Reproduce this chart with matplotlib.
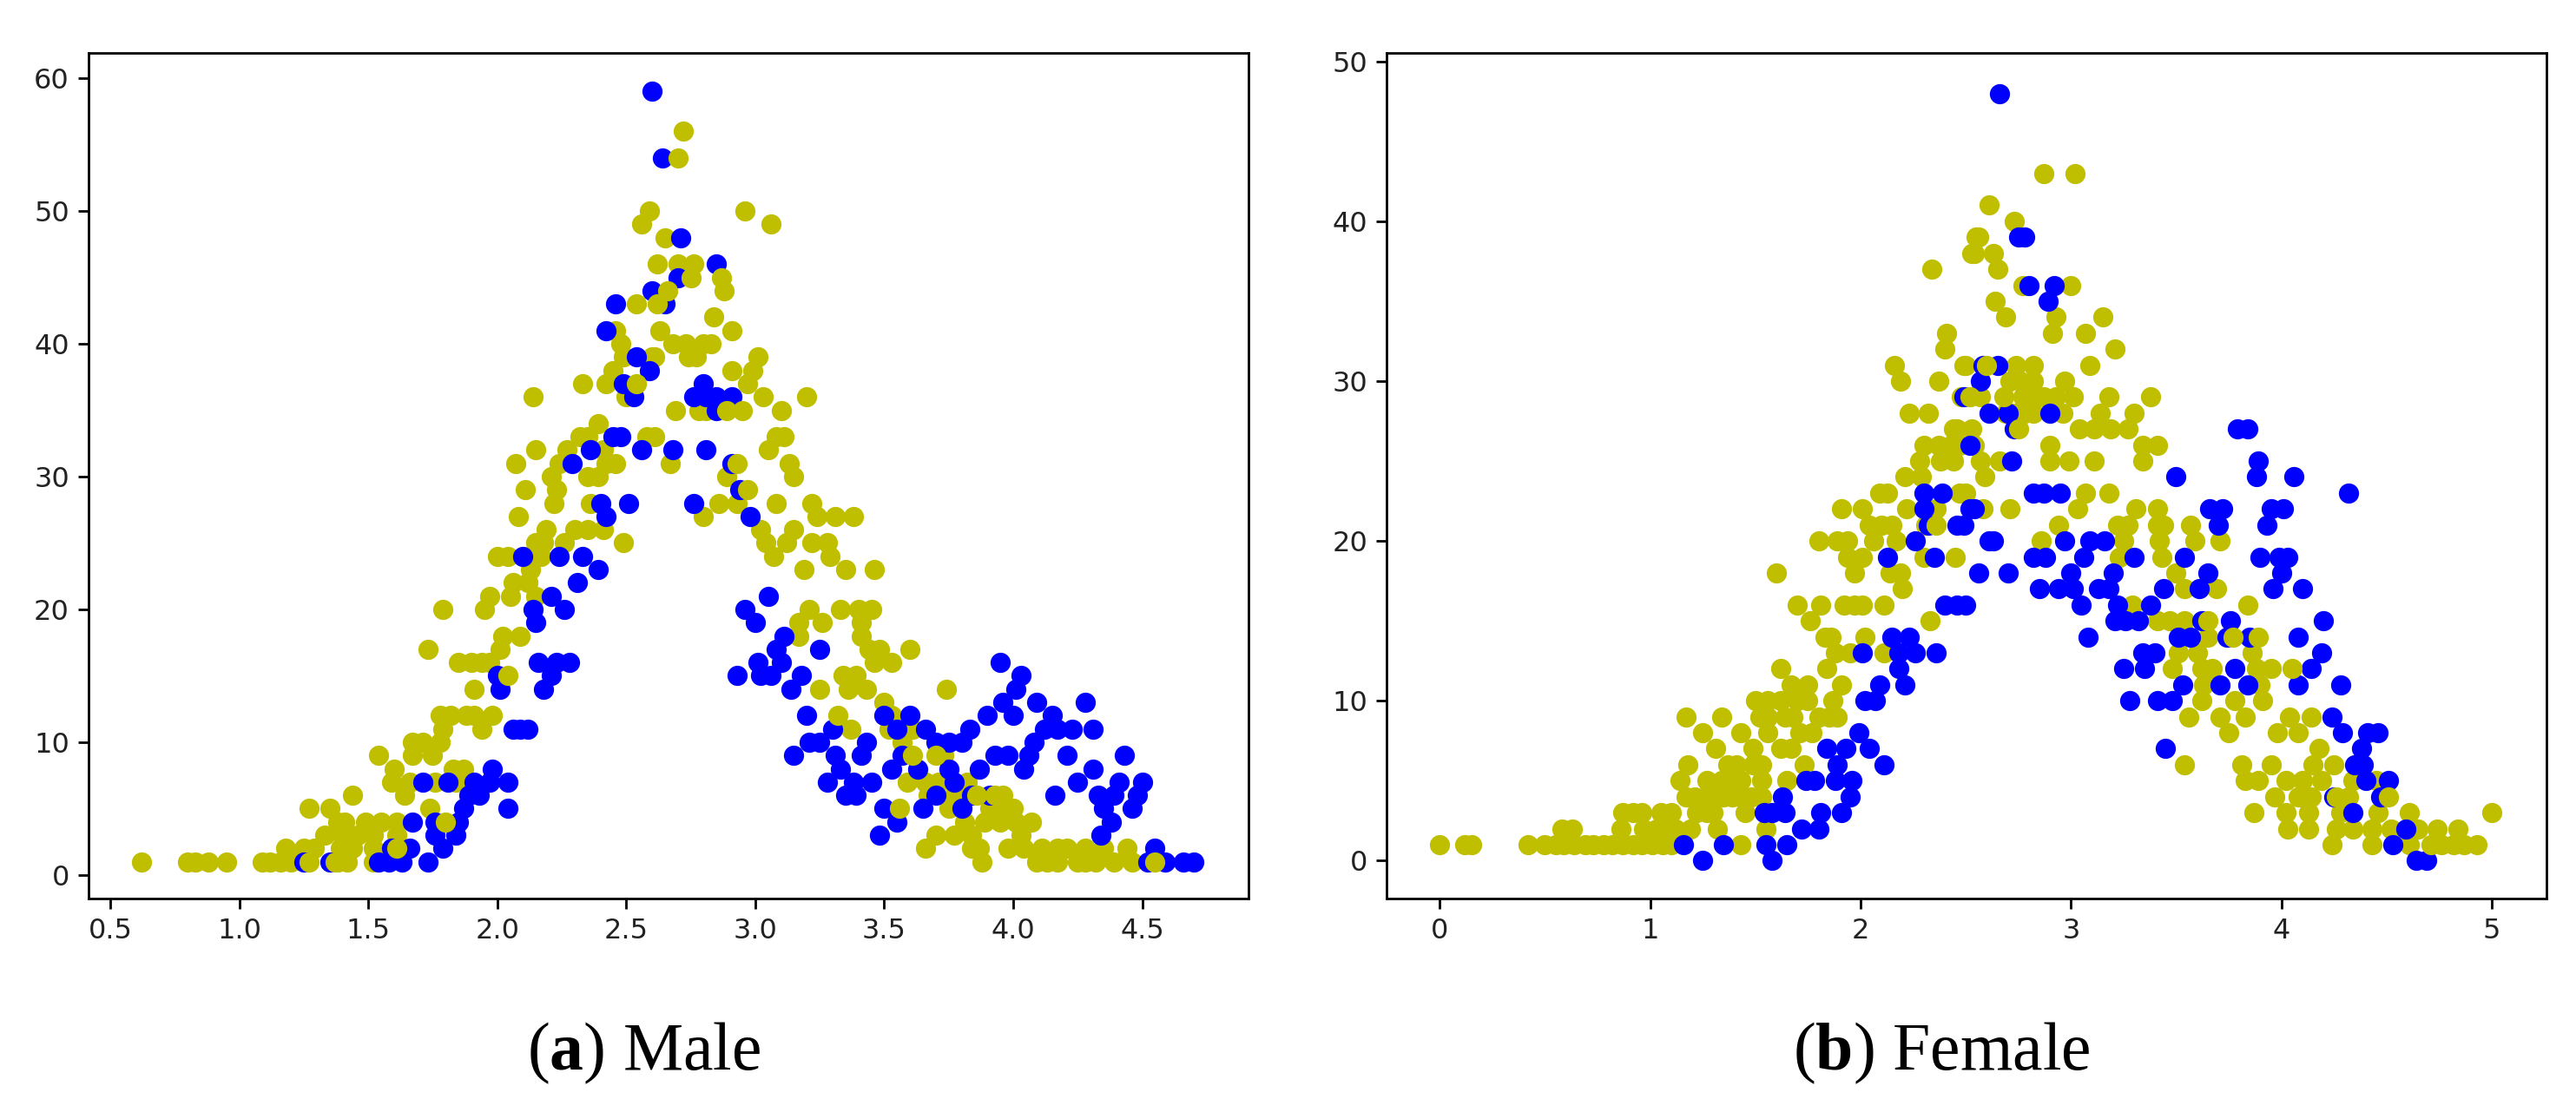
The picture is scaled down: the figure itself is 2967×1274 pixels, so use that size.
"""Male / female scatter panels, y values are integer counts."""
import matplotlib
matplotlib.use("Agg")
matplotlib.rcParams.update({
    "font.size": 11.5, "axes.linewidth": 1.0,
    "xtick.major.size": 4.3, "ytick.major.size": 4.3,
    "xtick.major.width": 1.0, "ytick.major.width": 1.0,
    "mathtext.fontset": "custom", "mathtext.bf": "Liberation Serif:bold",
    "mathtext.rm": "Liberation Serif",
})
import matplotlib.pyplot as plt

W, H = 2967, 1274
BLUE, OLIVE = "b", "y"
MARKER = 70

# every series: {count: [x positions]}
male_blue = {
    1: [1.25, 1.35, 1.54, 1.58, 1.63, 1.73, 4.52, 4.59, 4.66, 4.70],
    2: [1.59, 1.66, 1.79, 4.55],
    3: [1.76, 1.84, 3.48, 4.34],
    4: [1.67, 1.76, 1.85, 3.55, 4.38],
    5: [1.87, 2.04, 3.50, 3.65, 3.80, 4.35, 4.46],
    6: [1.89, 1.93, 3.35, 3.39, 3.70, 3.84, 3.91, 4.16, 4.33, 4.39, 4.48],
    7: [1.71, 1.81, 1.91, 1.97, 2.04, 3.28, 3.38, 3.45, 3.77, 4.25, 4.41, 4.50],
    8: [1.98, 3.33, 3.53, 3.63, 3.75, 3.87, 4.04, 4.31],
    9: [3.15, 3.31, 3.41, 3.57, 3.93, 3.98, 4.06, 4.21, 4.43],
    10: [3.21, 3.25, 3.43, 3.70, 3.75, 3.80, 4.08],
    11: [2.06, 2.09, 2.12, 3.30, 3.55, 3.66, 3.83, 4.12, 4.17, 4.23, 4.31],
    12: [3.20, 3.50, 3.60, 3.90, 4.00, 4.15],
    13: [3.96, 4.09, 4.28],
    14: [2.01, 2.18, 3.14, 4.01],
    15: [2.00, 2.21, 2.93, 3.02, 3.06, 3.18, 4.03],
    16: [2.16, 2.23, 2.28, 3.01, 3.10, 3.95],
    17: [3.08, 3.25],
    18: [3.11],
    19: [2.15, 3.00],
    20: [2.14, 2.26, 2.96],
    21: [2.21, 3.05],
    22: [2.31],
    23: [2.39],
    24: [2.10, 2.24, 2.33],
    27: [2.42, 2.98],
    28: [2.40, 2.51, 2.76],
    29: [2.94],
    31: [2.29, 2.91],
    32: [2.36, 2.56, 2.68, 2.81],
    33: [2.45, 2.48],
    35: [2.85],
    36: [2.53, 2.76, 2.81, 2.85, 2.91],
    37: [2.49, 2.80],
    38: [2.59],
    39: [2.54],
    41: [2.42],
    43: [2.46, 2.65],
    44: [2.60],
    45: [2.70],
    46: [2.85],
    48: [2.71],
    54: [2.64],
    59: [2.60],
}
male_olive = {
    1: [0.62, 0.80, 0.83, 0.88, 0.95, 1.09, 1.12, 1.16, 1.20, 1.38, 1.42, 1.52, 3.88,
        4.09, 4.13, 4.17, 4.25, 4.28, 4.32, 4.39, 4.46],
    2: [1.18, 1.25, 1.29, 1.39, 1.44, 1.52, 3.66, 3.84, 3.87, 3.98, 4.04, 4.11, 4.17,
        4.21, 4.28, 4.35, 4.44],
    3: [1.33, 1.40, 1.46, 1.52, 1.61, 3.70, 3.77, 3.84, 4.03],
    4: [1.38, 1.41, 1.49, 1.55, 1.61, 3.81, 3.89, 3.95, 4.01, 4.07],
    5: [1.27, 1.35, 1.74, 3.75, 3.91, 3.95, 4.00],
    6: [1.44, 1.64, 3.67, 3.77, 3.96],
    7: [1.59, 1.66, 1.76, 1.84, 3.59, 3.66, 3.71, 3.82],
    8: [1.60, 1.83, 1.87],
    9: [1.54, 1.67, 1.75, 3.73],
    10: [1.67, 1.71, 1.78, 3.57],
    11: [1.79, 1.94, 3.37, 3.52, 3.61],
    12: [1.78, 1.82, 1.88, 1.91, 1.98, 3.53],
    13: [3.50],
    14: [1.91, 3.25, 3.36, 3.43, 3.74],
    15: [3.34, 3.39],
    16: [1.85, 1.90, 1.94, 1.97, 3.46, 3.53],
    17: [1.73, 2.01, 3.44, 3.48, 3.60],
    18: [2.02, 2.09, 3.17, 3.41],
    19: [3.17, 3.26, 3.41],
    20: [1.79, 1.95, 3.21, 3.33, 3.40, 3.45],
    21: [1.97, 2.05, 2.15],
    22: [2.06, 2.12],
    23: [2.13, 3.19, 3.35, 3.46],
    24: [2.00, 2.04, 2.12, 2.17, 3.07, 3.29],
    25: [2.15, 2.18, 2.26, 2.49, 3.04, 3.12, 3.22, 3.28],
    26: [2.19, 2.30, 2.35, 2.41, 3.02, 3.15],
    27: [2.08, 2.80, 3.24, 3.31, 3.38],
    28: [2.22, 2.36, 2.86, 2.93, 3.08, 3.22],
    29: [2.11, 2.23],
    30: [2.21, 2.35, 2.39, 2.89, 3.15],
    31: [2.07, 2.24, 2.42, 2.46, 2.67, 3.13],
    32: [2.15, 2.27, 2.41, 3.05],
    33: [2.32, 2.35, 2.58, 2.61, 3.08, 3.11],
    34: [2.39],
    35: [2.69, 2.78, 2.81, 3.10],
    36: [2.14, 2.50, 3.03, 3.20],
    37: [2.33, 2.42, 2.97],
    38: [2.45, 2.91, 2.99],
    39: [2.49, 2.60, 2.61, 2.74, 2.77, 3.01],
    40: [2.48, 2.68, 2.73, 2.80, 2.83],
    41: [2.46, 2.63, 2.91],
    42: [2.84],
    43: [2.54],
    44: [2.88],
    46: [2.62, 2.70, 2.76],
    48: [2.65],
    49: [2.56, 3.06],
    50: [2.59, 2.96],
    56: [2.72],
}
# drawn after the blue points, these sit on top of them
male_olive_front = {
    1: [1.27, 1.37, 4.55],
    2: [1.61],
    4: [1.80],
    5: [3.56],
    6: [3.86, 3.93],
    9: [3.61, 3.70],
    12: [3.32],
    15: [2.04],
    29: [2.97],
    31: [2.93],
    35: [2.89, 2.95],
    37: [2.54],
    43: [2.62],
    44: [2.66],
    45: [2.75, 2.87],
    54: [2.70],
}

female_blue = {
    0: [1.25, 1.58, 4.64, 4.69],
    1: [1.16, 1.35, 1.55, 1.65, 4.53],
    2: [1.72, 1.80, 4.59],
    3: [1.54, 1.58, 1.64, 1.81, 1.91, 4.34],
    4: [1.63, 1.95, 4.25, 4.47],
    5: [1.74, 1.78, 1.88, 1.96, 4.40, 4.51],
    6: [1.89, 2.11, 4.35, 4.39],
    7: [1.84, 1.93, 2.04, 3.45, 4.38],
    8: [1.99, 4.29, 4.41, 4.46],
    9: [4.24],
    10: [2.02, 2.07, 3.28, 3.41, 3.48],
    11: [2.09, 2.21, 3.53, 3.71, 3.84, 4.08, 4.28],
    12: [2.18, 3.25, 3.35, 3.78, 4.14],
    13: [2.01, 2.18, 2.26, 2.36, 3.34, 3.40, 4.19],
    14: [2.15, 2.23, 3.08, 3.51, 3.57, 3.74, 3.85, 4.08],
    15: [3.21, 3.26, 3.32, 3.62, 3.76, 4.20],
    16: [2.40, 2.46, 2.50, 3.05, 3.22, 3.38],
    17: [2.85, 2.94, 3.01, 3.13, 3.18, 3.44, 3.61, 3.96, 4.10],
    18: [2.56, 2.70, 3.00, 3.20, 3.65, 4.00],
    19: [2.13, 2.35, 2.82, 2.88, 3.06, 3.30, 3.54, 3.90, 3.99, 4.03],
    20: [2.26, 2.61, 2.63, 2.97, 3.09, 3.16],
    21: [2.32, 2.46, 2.49, 3.70, 3.93],
    22: [2.30, 2.52, 2.54, 3.66, 3.72, 3.95, 4.01],
    23: [2.30, 2.39, 2.82, 2.87, 2.95, 4.32],
    24: [3.50, 3.88, 4.06],
    25: [2.72, 3.89],
    26: [2.52],
    27: [2.73, 3.79, 3.84],
    28: [2.61, 2.70, 2.90],
    29: [2.49],
    30: [2.57],
    31: [2.58, 2.65],
    35: [2.89],
    36: [2.80, 2.92],
    39: [2.75, 2.78],
    48: [2.66],
}
female_olive = {
    1: [0.00, 0.12, 0.15, 0.42, 0.50, 0.55, 0.59, 0.64, 0.69, 0.73, 0.78, 0.82, 0.87,
        0.92, 0.96, 1.01, 1.06, 1.10, 1.43, 4.24, 4.43, 4.61, 4.76, 4.82, 4.87, 4.93],
    2: [0.58, 0.63, 0.86, 0.97, 1.03, 1.07, 1.12, 1.19, 1.32, 1.55, 4.03, 4.13, 4.26,
        4.34, 4.43, 4.52, 4.65, 4.74, 4.84],
    3: [0.87, 0.92, 0.96, 1.05, 1.10, 1.22, 1.27, 1.30, 1.45, 3.87, 4.02, 4.13, 4.28,
        4.46, 4.61, 5.00],
    4: [1.17, 1.21, 1.26, 1.30, 1.35, 1.39, 1.43, 1.48, 1.53, 3.97, 4.08, 4.14, 4.32],
    5: [1.14, 1.27, 1.34, 1.39, 1.43, 1.53, 1.65, 3.83, 3.89, 4.02, 4.10, 4.19, 4.34, 4.45],
    6: [1.18, 1.37, 1.41, 1.49, 1.53, 1.73, 3.54, 3.81, 3.95, 4.15, 4.25],
    7: [1.31, 1.49, 1.62, 1.67, 4.18],
    8: [1.25, 1.43, 1.56, 1.71, 1.77, 3.75, 3.98, 4.08],
    9: [1.17, 1.34, 1.52, 1.56, 1.64, 1.68, 1.80, 1.85, 1.89, 3.56, 3.71, 3.83, 4.04, 4.14],
    10: [1.50, 1.56, 1.62, 1.70, 1.75, 1.87, 3.62, 3.78, 3.91],
    11: [1.67, 1.75, 1.91, 3.63, 3.90],
    12: [1.62, 1.84, 3.48, 3.62, 3.67, 3.88, 3.95],
    13: [1.88, 1.95, 2.11, 3.51, 3.60, 3.86],
    14: [1.83, 1.86, 2.02, 3.65],
    15: [1.76, 2.33, 3.41, 3.47, 3.54],
    16: [1.70, 1.81, 1.92, 1.97, 2.01, 2.11, 3.29, 3.84],
    17: [2.20, 3.54, 3.69],
    18: [1.60, 1.97, 2.14, 2.19, 3.50],
    19: [1.94, 2.01, 2.30, 2.45, 3.23, 3.43],
    20: [1.80, 1.89, 1.94, 2.06, 2.17, 2.86, 3.25, 3.42, 3.59, 3.71],
    21: [2.04, 2.10, 2.15, 2.31, 2.94, 3.22, 3.27, 3.41, 3.44, 3.57],
    22: [1.91, 2.01, 2.22, 2.36, 2.58, 2.71, 3.03, 3.31, 3.41],
    23: [2.09, 2.13, 2.47, 2.50, 3.07, 3.18],
    24: [2.21, 2.29, 2.59],
    25: [2.28, 2.38, 2.44, 2.57, 2.66, 2.90, 2.99, 3.11, 3.34],
    26: [2.30, 2.37, 2.43, 2.47, 2.54, 2.90, 3.34, 3.41],
    27: [2.44, 2.46, 2.53, 3.04, 3.11, 3.19, 3.27],
    28: [2.23, 2.32, 2.69, 2.73, 2.78, 2.82, 2.96, 3.14, 3.30],
    29: [2.48, 2.57, 2.77, 2.82, 2.87, 2.93, 3.01, 3.18, 3.38],
    30: [2.19, 2.37, 2.71, 2.76, 2.82, 2.97],
    31: [2.16, 2.49, 2.50, 2.74, 2.82, 3.09],
    32: [2.40, 3.21],
    33: [2.41, 2.91, 3.07],
    34: [2.69, 2.93, 3.15],
    35: [2.64],
    36: [2.77, 3.00],
    37: [2.34, 2.65],
    38: [2.53, 2.54, 2.63],
    39: [2.55, 2.56],
    40: [2.73],
    41: [2.61],
    43: [2.87, 3.02],
}
female_olive_front = {
    1: [4.71],
    4: [4.26, 4.51],
    12: [4.05],
    14: [3.77, 3.89],
    15: [3.65],
    21: [2.36],
    27: [2.75],
    29: [2.52, 2.68],
    31: [2.60],
}

male_xticks = [0.5, 1.0, 1.5, 2.0, 2.5, 3.0, 3.5, 4.0, 4.5]
male_yticks = [0, 10, 20, 30, 40, 50, 60]
female_xticks = [0, 1, 2, 3, 4, 5]
female_yticks = [0, 10, 20, 30, 40, 50]


def flatten(series):
    xs, ys = [], []
    for count, positions in series.items():
        xs += positions
        ys += [count] * len(positions)
    return xs, ys


def make_axes(fig, left, right, top=61, bottom=1035):
    return fig.add_axes([left / W, 1 - bottom / H, (right - left) / W, (bottom - top) / H])


def panel(ax, blue, olive, front, xlim, ylim, xticks, yticks):
    ax.scatter(*flatten(olive), s=MARKER, c=OLIVE, linewidths=0)
    ax.scatter(*flatten(blue), s=MARKER, c=BLUE, linewidths=0)
    ax.scatter(*flatten(front), s=MARKER, c=OLIVE, linewidths=0)
    ax.set_xlim(*xlim); ax.set_ylim(*ylim)
    ax.set_xticks(xticks); ax.set_yticks(yticks)
    ax.tick_params(labelcolor="#222222")


def main():
    fig = plt.figure(figsize=(W / 200, H / 200), dpi=200)
    ax_m = make_axes(fig, 101.5, 1438)
    ax_f = make_axes(fig, 1597, 2933)
    panel(ax_m, male_blue, male_olive, male_olive_front,
          (0.414, 4.912), (-1.77, 61.9), male_xticks, male_yticks)
    panel(ax_f, female_blue, female_olive, female_olive_front,
          (-0.253, 5.26), (-2.37, 50.53), female_xticks, female_yticks)

    cap = dict(ha="center", va="baseline", fontsize=28, family="Liberation Serif")
    fig.text(742 / W, 1 - 1232 / H, r"($\mathbf{a}$) Male", **cap)
    fig.text(2236 / W, 1 - 1232 / H, r"($\mathbf{b}$) Female", **cap)
    fig.savefig("out.png", dpi=200)
    plt.close(fig)


if __name__ == "__main__":
    main()
